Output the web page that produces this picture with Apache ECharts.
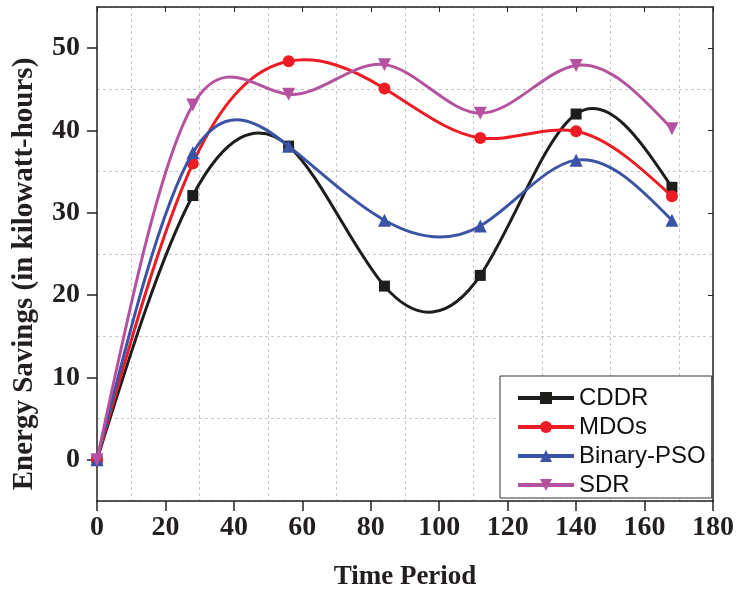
<!DOCTYPE html>
<html>
<head>
<meta charset="utf-8">
<script src="https://cdn.jsdelivr.net/npm/echarts@6/dist/echarts.min.js"></script>
<style>
html,body{margin:0;padding:0;background:#fff;}
#chart{width:737px;height:596px;}
</style>
</head>
<body>
<div id="chart"></div>
<script>
// ---- data ----
const timePeriods = [0, 28, 56, 84, 112, 140, 168];
const cddr      = [0, 32.1, 38.1, 21.1, 22.4, 42.0, 33.1];
const mdos      = [0, 36.0, 48.4, 45.1, 39.1, 39.9, 32.0];
const binaryPso = [0, 37.3, 38.1, 29.1, 28.4, 36.4, 29.1];
const sdr       = [0, 43.1, 44.4, 48.0, 42.1, 47.9, 40.2];
const seriesNames = ['CDDR', 'MDOs', 'Binary-PSO', 'SDR'];
const xTickValues = [0, 20, 40, 60, 80, 100, 120, 140, 160, 180];
const yTickValues = [0, 10, 20, 30, 40, 50];

// natural cubic spline slopes (used only to draw the curve between points)
function splineSlopes(xs, ys) {
  const n = xs.length;
  const h = [];
  for (let i = 0; i < n - 1; i++) h.push(xs[i + 1] - xs[i]);
  const a = new Array(n).fill(0), b = new Array(n).fill(0), c = new Array(n).fill(0), r = new Array(n).fill(0);
  b[0] = 1; b[n - 1] = 1;
  for (let i = 1; i < n - 1; i++) {
    a[i] = h[i - 1]; b[i] = 2 * (h[i - 1] + h[i]); c[i] = h[i];
    r[i] = 6 * ((ys[i + 1] - ys[i]) / h[i] - (ys[i] - ys[i - 1]) / h[i - 1]);
  }
  const cp = new Array(n).fill(0), dp = new Array(n).fill(0);
  cp[0] = c[0] / b[0]; dp[0] = r[0] / b[0];
  for (let i = 1; i < n; i++) {
    const m = b[i] - a[i] * cp[i - 1];
    cp[i] = c[i] / m; dp[i] = (r[i] - a[i] * dp[i - 1]) / m;
  }
  const M = new Array(n).fill(0);
  M[n - 1] = dp[n - 1];
  for (let i = n - 2; i >= 0; i--) M[i] = dp[i] - cp[i] * M[i + 1];
  const d = [];
  for (let i = 0; i < n - 1; i++) d.push((ys[i + 1] - ys[i]) / h[i] - h[i] * (2 * M[i] + M[i + 1]) / 6);
  d.push((ys[n - 1] - ys[n - 2]) / h[n - 2] + h[n - 2] * (M[n - 2] + 2 * M[n - 1]) / 6);
  return d;
}

const colors = ['#1d1d1b', '#ed1c24', '#3a53a4', '#b5529f'];
const allValues = [cddr, mdos, binaryPso, sdr];
const symbols = ['rect', 'circle', 'triangle', 'triangle'];
const symbolSizes = [11, 12, 13, 13];
const symbolRotates = [0, 0, 0, 180];

function curveSeries(ys, color, z) {
  const d = splineSlopes(timePeriods, ys);
  return {
    type: 'custom',
    coordinateSystem: 'cartesian2d',
    silent: true,
    z: z,
    data: timePeriods.map((t, i) => [t, ys[i]]),
    renderItem: function (params, api) {
      const i = params.dataIndex;
      if (i >= timePeriods.length - 1) return null;
      const x0 = timePeriods[i], x1 = timePeriods[i + 1], h = x1 - x0;
      const p0 = api.coord([x0, ys[i]]);
      const p1 = api.coord([x0 + h / 3, ys[i] + d[i] * h / 3]);
      const p2 = api.coord([x1 - h / 3, ys[i + 1] - d[i + 1] * h / 3]);
      const p3 = api.coord([x1, ys[i + 1]]);
      return {
        type: 'bezierCurve',
        shape: { x1: p0[0], y1: p0[1], cpx1: p1[0], cpy1: p1[1], cpx2: p2[0], cpy2: p2[1], x2: p3[0], y2: p3[1] },
        style: { stroke: color, lineWidth: 3, fill: 'none' }
      };
    }
  };
}

const series = [];
allValues.forEach((ys, k) => {
  series.push(curveSeries(ys, colors[k], 2 + k * 2));
  series.push({
    name: seriesNames[k],
    type: 'line',
    data: timePeriods.map((t, i) => [t, ys[i]]),
    symbol: symbols[k],
    symbolSize: symbolSizes[k],
    symbolRotate: symbolRotates[k],
    showAllSymbol: true,
    z: 3 + k * 2,
    itemStyle: { color: colors[k] },
    lineStyle: { width: 3, color: colors[k], opacity: 0 },
    emphasis: { disabled: true }
  });
});

const axisColor = '#231f20';
const tickFont = { fontFamily: 'Liberation Serif', fontWeight: 'bold', fontSize: 28, color: axisColor };

const option = {
  animation: false,
  backgroundColor: '#fff',
  grid: { left: 97, right: 22, top: 7, bottom: 95, containLabel: false },
  legend: {
    orient: 'vertical',
    left: 500,
    top: 376,
    padding: [10, 6, 1, 16],
    itemGap: 5,
    itemWidth: 56,
    itemHeight: 15,
    borderColor: '#333',
    borderWidth: 1,
    backgroundColor: '#fff',
    textStyle: { fontFamily: 'Liberation Sans', fontSize: 24, color: '#111', lineHeight: 24 },
    data: seriesNames.map(n => ({ name: n, lineStyle: { opacity: 1, width: 4 } }))
  },
  xAxis: [
    {
      type: 'value', position: 'bottom', min: 0, max: 180, interval: 20,
      name: 'Time Period', nameLocation: 'middle', nameGap: 63,
      nameTextStyle: { fontFamily: 'Liberation Serif', fontWeight: 'bold', fontSize: 27, color: axisColor },
      axisLine: { show: true, onZero: false, lineStyle: { color: axisColor, width: 1.5 } },
      axisTick: { show: true, inside: false, length: 10, lineStyle: { color: axisColor, width: 1.5 } },
      axisLabel: Object.assign({ margin: 13, customValues: xTickValues }, tickFont),
      splitLine: { show: false },
      minorTick: { show: false, splitNumber: 2 },
      minorSplitLine: { show: true, lineStyle: { color: '#c8c8c8', type: [3, 3], width: 1 } }
    },
    {
      type: 'value', position: 'top', min: 0, max: 180, interval: 20,
      axisLine: { show: true, onZero: false, lineStyle: { color: axisColor, width: 1.5 } },
      axisTick: { show: true, inside: true, length: 5, lineStyle: { color: axisColor, width: 1 } },
      axisLabel: { show: false },
      splitLine: { show: false }
    }
  ],
  yAxis: [
    {
      type: 'value', position: 'left', min: -5, max: 55, interval: 5,
      name: 'Energy Savings (in kilowatt-hours)', nameLocation: 'middle', nameGap: 58, nameRotate: 90,
      nameTextStyle: { fontFamily: 'Liberation Serif', fontWeight: 'bold', fontSize: 29, color: axisColor, padding: [0, 40, 0, 0] },
      axisLine: { show: true, onZero: false, lineStyle: { color: axisColor, width: 1.5 } },
      axisTick: { show: true, inside: false, length: 10, customValues: yTickValues, lineStyle: { color: axisColor, width: 1.5 } },
      axisLabel: Object.assign({ margin: 17, customValues: yTickValues }, tickFont),
      splitLine: { show: false }
    },
    {
      type: 'value', position: 'left', min: -5, max: 55, interval: 5,
      axisLine: { show: false }, axisTick: { show: false }, axisLabel: { show: false },
      splitLine: { show: true, lineStyle: { color: ['#c8c8c8', 'rgba(0,0,0,0)'], type: [3, 3], width: 1 } }
    },
    {
      type: 'value', position: 'right', min: -5, max: 55, interval: 5,
      axisLine: { show: true, onZero: false, lineStyle: { color: axisColor, width: 1.5 } },
      axisTick: { show: true, inside: true, length: 5, customValues: yTickValues, lineStyle: { color: axisColor, width: 1 } },
      axisLabel: { show: false },
      splitLine: { show: false }
    }
  ],
  series: series
};

const chart = echarts.init(document.getElementById('chart'), null, { renderer: 'canvas' });
chart.setOption(option);
</script>
</body>
</html>
